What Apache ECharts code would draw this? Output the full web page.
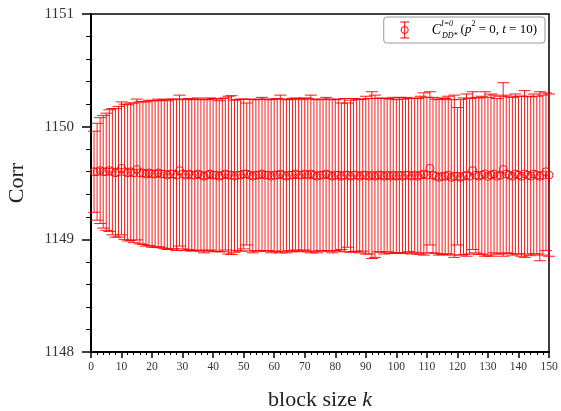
<!DOCTYPE html>
<html>
<head>
<meta charset="utf-8">
<script src="https://cdn.jsdelivr.net/npm/echarts@6/dist/echarts.min.js"></script>
<style>
  html, body { margin: 0; padding: 0; background: #fff; }
  #chart { width: 561px; height: 411px; }
</style>
</head>
<body>
<div id="chart"></div>
<script>
// block sizes k
const blockSize = [
  1, 2, 3, 4, 5, 6, 7, 8, 9, 10, 11, 12, 13, 14, 15, 16, 17, 18, 19, 20,
  21, 22, 23, 24, 25, 26, 27, 28, 29, 30, 31, 32, 33, 34, 35, 36, 37, 38, 39, 40,
  41, 42, 43, 44, 45, 46, 47, 48, 49, 50, 51, 52, 53, 54, 55, 56, 57, 58, 59, 60,
  61, 62, 63, 64, 65, 66, 67, 68, 69, 70, 71, 72, 73, 74, 75, 76, 77, 78, 79, 80,
  81, 82, 83, 84, 85, 86, 87, 88, 89, 90, 91, 92, 93, 94, 95, 96, 97, 98, 99, 100,
  101, 102, 103, 104, 105, 106, 107, 108, 109, 110, 111, 112, 113, 114, 115, 116, 117, 118, 119, 120,
  121, 122, 123, 124, 125, 126, 127, 128, 129, 130, 131, 132, 133, 134, 135, 136, 137, 138, 139, 140,
  141, 142, 143, 144, 145, 146, 147, 148, 149, 150
];

// central values
const corr = [
  1149.60, 1149.60, 1149.61, 1149.60, 1149.60, 1149.61, 1149.60, 1149.59, 1149.60, 1149.63,
  1149.60, 1149.59, 1149.60, 1149.59, 1149.62, 1149.59, 1149.59, 1149.58, 1149.59, 1149.58,
  1149.58, 1149.59, 1149.58, 1149.58, 1149.57, 1149.58, 1149.58, 1149.57, 1149.61, 1149.58,
  1149.57, 1149.58, 1149.57, 1149.57, 1149.58, 1149.57, 1149.56, 1149.57, 1149.58, 1149.57,
  1149.57, 1149.56, 1149.57, 1149.58, 1149.57, 1149.57, 1149.56, 1149.57, 1149.57, 1149.58,
  1149.58, 1149.57, 1149.56, 1149.57, 1149.57, 1149.58, 1149.57, 1149.57, 1149.56, 1149.57,
  1149.57, 1149.58, 1149.57, 1149.56, 1149.57, 1149.57, 1149.58, 1149.57, 1149.57, 1149.58,
  1149.57, 1149.58, 1149.57, 1149.56, 1149.57, 1149.57, 1149.58, 1149.57, 1149.56, 1149.57,
  1149.57, 1149.56, 1149.57, 1149.57, 1149.56, 1149.57, 1149.57, 1149.56, 1149.57, 1149.57,
  1149.56, 1149.57, 1149.56, 1149.57, 1149.57, 1149.56, 1149.57, 1149.56, 1149.57, 1149.56,
  1149.57, 1149.56, 1149.57, 1149.57, 1149.56, 1149.57, 1149.56, 1149.57, 1149.58, 1149.57,
  1149.63, 1149.57, 1149.56, 1149.55, 1149.56, 1149.56, 1149.57, 1149.55, 1149.56, 1149.56,
  1149.55, 1149.56, 1149.57, 1149.56, 1149.61, 1149.57, 1149.56, 1149.57, 1149.58, 1149.56,
  1149.57, 1149.58, 1149.56, 1149.57, 1149.62, 1149.58, 1149.57, 1149.56, 1149.58, 1149.57,
  1149.56, 1149.58, 1149.57, 1149.56, 1149.58, 1149.57, 1149.56, 1149.57, 1149.60, 1149.57
];

// errors
const corrErr = [
  0.36, 0.43, 0.47, 0.50, 0.52, 0.54, 0.56, 0.57, 0.58, 0.59,
  0.60, 0.605, 0.61, 0.62, 0.625, 0.63, 0.635, 0.64, 0.645, 0.65,
  0.65, 0.655, 0.655, 0.66, 0.66, 0.665, 0.665, 0.67, 0.67, 0.665,
  0.67, 0.67, 0.675, 0.67, 0.675, 0.675, 0.68, 0.67, 0.675, 0.68,
  0.675, 0.67, 0.68, 0.675, 0.70, 0.705, 0.675, 0.67, 0.675, 0.665,
  0.63, 0.675, 0.68, 0.67, 0.675, 0.68, 0.675, 0.67, 0.68, 0.675,
  0.68, 0.70, 0.675, 0.68, 0.67, 0.68, 0.675, 0.68, 0.67, 0.675,
  0.68, 0.70, 0.675, 0.68, 0.67, 0.675, 0.68, 0.675, 0.68, 0.67,
  0.675, 0.65, 0.68, 0.64, 0.675, 0.68, 0.675, 0.68, 0.675, 0.70,
  0.69, 0.74, 0.72, 0.68, 0.685, 0.69, 0.68, 0.685, 0.69, 0.68,
  0.69, 0.685, 0.69, 0.68, 0.69, 0.685, 0.69, 0.70, 0.72, 0.69,
  0.68, 0.69, 0.685, 0.69, 0.695, 0.69, 0.70, 0.69, 0.72, 0.61,
  0.69, 0.695, 0.72, 0.69, 0.70, 0.69, 0.695, 0.70, 0.73, 0.70,
  0.72, 0.70, 0.69, 0.70, 0.77, 0.70, 0.695, 0.70, 0.71, 0.70,
  0.71, 0.74, 0.70, 0.705, 0.71, 0.70, 0.75, 0.71, 0.70, 0.72
];

const seriesName = 'C(I=0) DD* (p2=0, t=10)';
const serif = "'Liberation Serif', 'DejaVu Serif', serif";
const red = '#ff0000';

const errData = blockSize.map((k, i) => [k, corr[i], corrErr[i]]);
const ptData = blockSize.map((k, i) => [k, corr[i]]);

const chart = echarts.init(document.getElementById('chart'));

function renderErrBar(params, api) {
  const k = api.value(0);
  const c = api.value(1);
  const e = api.value(2);
  const hi = api.coord([k, c + e]);
  const lo = api.coord([k, c - e]);
  const w = 6;
  const style = { stroke: red, lineWidth: 1, opacity: 0.9 };
  return {
    type: 'group',
    children: [
      { type: 'line', shape: { x1: hi[0], y1: hi[1], x2: lo[0], y2: lo[1] }, style: style },
      { type: 'line', shape: { x1: hi[0] - w, y1: hi[1], x2: hi[0] + w, y2: hi[1] }, style: style },
      { type: 'line', shape: { x1: lo[0] - w, y1: lo[1], x2: lo[0] + w, y2: lo[1] }, style: style }
    ]
  };
}

const option = {
  animation: false,
  backgroundColor: '#fff',
  grid: {
    left: 91, right: 12, top: 14, bottom: 59,
    outerBoundsMode: 'none',
    containLabel: false,
    show: true, borderColor: '#000', borderWidth: 1.5, backgroundColor: 'transparent'
  },
  legend: {
    right: 16, top: 17,
    orient: 'vertical',
    borderColor: '#999', borderWidth: 1, borderRadius: 3,
    padding: [3, 8, 3, 16],
    itemWidth: 12, itemHeight: 16,
    data: [{
      name: seriesName,
      icon: 'path://M0,0 L10,0 M5,0 L5,18 M0,18 L10,18 M9,9 A4,4 0 1,1 1,9 A4,4 0 1,1 9,9 Z',
      itemStyle: { color: 'rgba(0,0,0,0)', borderColor: red, borderWidth: 1 }
    }],
    formatter: function () {
      return '{c|C}{sup|I=0}{sub|DD*}{n|(}{i|p}{s2|2}{n| = 0, }{i|t}{n| = 10)}';
    },
    textStyle: {
      fontFamily: serif,
      padding: [0, 0, 0, 16],
      rich: {
        c: { fontFamily: serif, fontStyle: 'italic', fontSize: 14, color: '#000', lineHeight: 20 },
        sup: { fontFamily: serif, fontStyle: 'italic', fontSize: 8, color: '#000', verticalAlign: 'top', width: 1, lineHeight: 20 },
        sub: { fontFamily: serif, fontStyle: 'italic', fontSize: 8, color: '#000', verticalAlign: 'bottom', lineHeight: 20, padding: [0, 3, 0, 0] },
        n: { fontFamily: serif, fontSize: 13, color: '#000', lineHeight: 20 },
        i: { fontFamily: serif, fontStyle: 'italic', fontSize: 13, color: '#000', lineHeight: 20 },
        s2: { fontFamily: serif, fontSize: 8, color: '#000', verticalAlign: 'top', lineHeight: 20 }
      }
    }
  },
  xAxis: {
    type: 'value',
    min: 0, max: 150, interval: 10,
    name: 'block size {k|k}',
    nameLocation: 'middle',
    nameGap: 37,
    nameTextStyle: {
      fontFamily: serif, fontSize: 22, color: '#222',
      rich: { k: { fontFamily: serif, fontStyle: 'italic', fontSize: 22, color: '#222' } }
    },
    axisLine: { lineStyle: { color: '#000', width: 2 } },
    axisTick: { show: true, inside: false, length: 6, lineStyle: { color: '#000', width: 1.5 } },
    minorTick: { show: true, splitNumber: 5, length: 3, lineStyle: { color: '#000', width: 1 } },
    axisLabel: { fontFamily: serif, fontSize: 11.5, color: '#333', margin: 9 },
    splitLine: { show: false }
  },
  yAxis: {
    type: 'value',
    min: 1148, max: 1151, interval: 1,
    name: 'Corr',
    nameLocation: 'middle',
    nameGap: 63,
    nameTextStyle: { fontFamily: serif, fontSize: 22, color: '#222' },
    axisLine: { lineStyle: { color: '#000', width: 2 } },
    axisTick: { show: true, inside: false, length: 9, lineStyle: { color: '#000', width: 1.5 } },
    minorTick: { show: true, splitNumber: 5, length: 5, lineStyle: { color: '#000', width: 1 } },
    axisLabel: {
      fontFamily: serif, fontSize: 15, color: '#333', margin: 17,
      formatter: function (v) { return String(v); }
    },
    splitLine: { show: false }
  },
  series: [
    {
      name: seriesName,
      type: 'custom',
      renderItem: renderErrBar,
      encode: { x: 0, y: 1 },
      data: errData,
      z: 2
    },
    {
      name: seriesName,
      type: 'scatter',
      symbol: 'circle',
      symbolSize: 8,
      itemStyle: { color: 'rgba(0,0,0,0)', borderColor: red, borderWidth: 1, opacity: 0.9 },
      data: ptData,
      z: 3
    }
  ]
};

chart.setOption(option);
</script>
</body>
</html>
